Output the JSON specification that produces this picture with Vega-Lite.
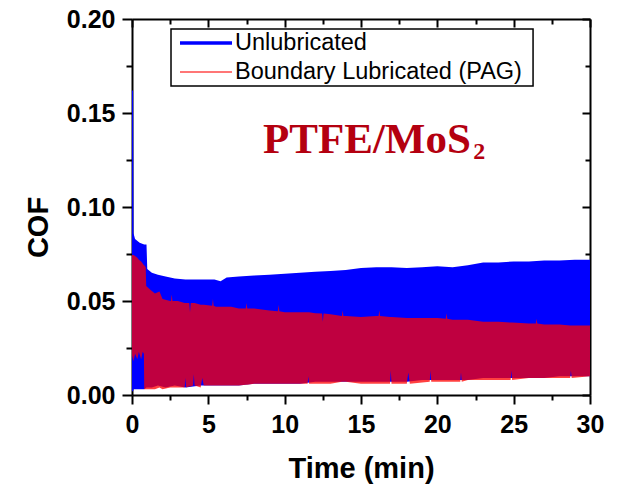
{
  "$schema": "https://vega.github.io/schema/vega-lite/v6.json",
  "width": 458,
  "height": 376,
  "autosize": {"type": "none"},
  "padding": {"left": 132, "top": 19, "right": 27, "bottom": 90},
  "background": "white",
  "config": {
    "view": {"stroke": null},
    "axis": {
      "domainColor": "black", "domainWidth": 2, "tickColor": "black", "tickWidth": 2,
      "labelColor": "black", "labelFont": "Liberation Sans", "labelFontWeight": "bold", "labelFontSize": 25,
      "titleFont": "Liberation Sans", "titleFontWeight": "bold", "titleFontSize": 29, "titleColor": "black",
      "grid": false, "zindex": 1
    }
  },
  "datasets": {
    "cof": [
      {"series": "Unlubricated", "t": 0, "hi": 0.162, "lo": 0.002},
      {"series": "Unlubricated", "t": 0.07, "hi": 0.162, "lo": 0.002},
      {"series": "Unlubricated", "t": 0.1, "hi": 0.086, "lo": 0.003},
      {"series": "Unlubricated", "t": 0.2, "hi": 0.083, "lo": 0.003},
      {"series": "Unlubricated", "t": 0.5, "hi": 0.081, "lo": 0.003},
      {"series": "Unlubricated", "t": 0.8, "hi": 0.08, "lo": 0.003},
      {"series": "Unlubricated", "t": 0.95, "hi": 0.08, "lo": 0.004},
      {"series": "Unlubricated", "t": 1.0, "hi": 0.067, "lo": 0.004},
      {"series": "Unlubricated", "t": 1.3, "hi": 0.065, "lo": 0.004},
      {"series": "Unlubricated", "t": 1.7, "hi": 0.064, "lo": 0.005},
      {"series": "Unlubricated", "t": 2.2, "hi": 0.063, "lo": 0.004},
      {"series": "Unlubricated", "t": 2.8, "hi": 0.062, "lo": 0.005},
      {"series": "Unlubricated", "t": 3.5, "hi": 0.0615, "lo": 0.004},
      {"series": "Unlubricated", "t": 4.5, "hi": 0.0615, "lo": 0.005},
      {"series": "Unlubricated", "t": 5.4, "hi": 0.0615, "lo": 0.005},
      {"series": "Unlubricated", "t": 5.8, "hi": 0.0605, "lo": 0.005},
      {"series": "Unlubricated", "t": 6.2, "hi": 0.0625, "lo": 0.005},
      {"series": "Unlubricated", "t": 7, "hi": 0.063, "lo": 0.005},
      {"series": "Unlubricated", "t": 8, "hi": 0.0635, "lo": 0.006},
      {"series": "Unlubricated", "t": 9, "hi": 0.064, "lo": 0.006},
      {"series": "Unlubricated", "t": 10, "hi": 0.0645, "lo": 0.006},
      {"series": "Unlubricated", "t": 11, "hi": 0.065, "lo": 0.006},
      {"series": "Unlubricated", "t": 12, "hi": 0.0655, "lo": 0.007},
      {"series": "Unlubricated", "t": 13, "hi": 0.066, "lo": 0.007},
      {"series": "Unlubricated", "t": 14, "hi": 0.0665, "lo": 0.007},
      {"series": "Unlubricated", "t": 15, "hi": 0.0675, "lo": 0.007},
      {"series": "Unlubricated", "t": 16, "hi": 0.068, "lo": 0.007},
      {"series": "Unlubricated", "t": 17, "hi": 0.068, "lo": 0.007},
      {"series": "Unlubricated", "t": 18, "hi": 0.0675, "lo": 0.007},
      {"series": "Unlubricated", "t": 19, "hi": 0.068, "lo": 0.008},
      {"series": "Unlubricated", "t": 20, "hi": 0.0685, "lo": 0.008},
      {"series": "Unlubricated", "t": 21, "hi": 0.068, "lo": 0.008},
      {"series": "Unlubricated", "t": 22, "hi": 0.069, "lo": 0.008},
      {"series": "Unlubricated", "t": 23, "hi": 0.0705, "lo": 0.009},
      {"series": "Unlubricated", "t": 24, "hi": 0.0705, "lo": 0.009},
      {"series": "Unlubricated", "t": 25, "hi": 0.071, "lo": 0.009},
      {"series": "Unlubricated", "t": 26, "hi": 0.071, "lo": 0.009},
      {"series": "Unlubricated", "t": 27, "hi": 0.0715, "lo": 0.009},
      {"series": "Unlubricated", "t": 28, "hi": 0.0715, "lo": 0.01},
      {"series": "Unlubricated", "t": 29, "hi": 0.072, "lo": 0.01},
      {"series": "Unlubricated", "t": 30, "hi": 0.072, "lo": 0.01},
      {"series": "Boundary Lubricated (PAG)", "t": 0, "hi": 0.0745, "lo": 0.021},
      {"series": "Boundary Lubricated (PAG)", "t": 0.1, "hi": 0.0745, "lo": 0.018},
      {"series": "Boundary Lubricated (PAG)", "t": 0.2, "hi": 0.074, "lo": 0.022},
      {"series": "Boundary Lubricated (PAG)", "t": 0.35, "hi": 0.073, "lo": 0.019},
      {"series": "Boundary Lubricated (PAG)", "t": 0.45, "hi": 0.072, "lo": 0.023},
      {"series": "Boundary Lubricated (PAG)", "t": 0.6, "hi": 0.071, "lo": 0.019},
      {"series": "Boundary Lubricated (PAG)", "t": 0.7, "hi": 0.07, "lo": 0.023},
      {"series": "Boundary Lubricated (PAG)", "t": 0.78, "hi": 0.069, "lo": 0.022},
      {"series": "Boundary Lubricated (PAG)", "t": 0.8, "hi": 0.069, "lo": 0.003},
      {"series": "Boundary Lubricated (PAG)", "t": 0.9, "hi": 0.068, "lo": 0.003},
      {"series": "Boundary Lubricated (PAG)", "t": 0.93, "hi": 0.058, "lo": 0.003},
      {"series": "Boundary Lubricated (PAG)", "t": 1.2, "hi": 0.056, "lo": 0.003},
      {"series": "Boundary Lubricated (PAG)", "t": 1.5, "hi": 0.054, "lo": 0.003},
      {"series": "Boundary Lubricated (PAG)", "t": 1.8, "hi": 0.055, "lo": 0.004},
      {"series": "Boundary Lubricated (PAG)", "t": 2.0, "hi": 0.051, "lo": 0.003},
      {"series": "Boundary Lubricated (PAG)", "t": 2.5, "hi": 0.05, "lo": 0.004},
      {"series": "Boundary Lubricated (PAG)", "t": 2.55, "hi": 0.05, "lo": 0.004},
      {"series": "Boundary Lubricated (PAG)", "t": 2.6, "hi": 0.0535, "lo": 0.004},
      {"series": "Boundary Lubricated (PAG)", "t": 2.65, "hi": 0.05, "lo": 0.004},
      {"series": "Boundary Lubricated (PAG)", "t": 3.0, "hi": 0.05, "lo": 0.004},
      {"series": "Boundary Lubricated (PAG)", "t": 3.45, "hi": 0.049, "lo": 0.004},
      {"series": "Boundary Lubricated (PAG)", "t": 3.5, "hi": 0.049, "lo": 0.009},
      {"series": "Boundary Lubricated (PAG)", "t": 3.55, "hi": 0.049, "lo": 0.004},
      {"series": "Boundary Lubricated (PAG)", "t": 3.75, "hi": 0.049, "lo": 0.0045},
      {"series": "Boundary Lubricated (PAG)", "t": 3.8, "hi": 0.044, "lo": 0.0045},
      {"series": "Boundary Lubricated (PAG)", "t": 3.85, "hi": 0.049, "lo": 0.0045},
      {"series": "Boundary Lubricated (PAG)", "t": 4.0, "hi": 0.049, "lo": 0.005},
      {"series": "Boundary Lubricated (PAG)", "t": 4.05, "hi": 0.049, "lo": 0.011},
      {"series": "Boundary Lubricated (PAG)", "t": 4.1, "hi": 0.049, "lo": 0.005},
      {"series": "Boundary Lubricated (PAG)", "t": 4.5, "hi": 0.048, "lo": 0.004},
      {"series": "Boundary Lubricated (PAG)", "t": 4.6, "hi": 0.048, "lo": 0.009},
      {"series": "Boundary Lubricated (PAG)", "t": 4.7, "hi": 0.048, "lo": 0.005},
      {"series": "Boundary Lubricated (PAG)", "t": 5.25, "hi": 0.0475, "lo": 0.005},
      {"series": "Boundary Lubricated (PAG)", "t": 5.3, "hi": 0.051, "lo": 0.005},
      {"series": "Boundary Lubricated (PAG)", "t": 5.35, "hi": 0.0475, "lo": 0.005},
      {"series": "Boundary Lubricated (PAG)", "t": 5.5, "hi": 0.047, "lo": 0.005},
      {"series": "Boundary Lubricated (PAG)", "t": 6, "hi": 0.047, "lo": 0.005},
      {"series": "Boundary Lubricated (PAG)", "t": 6.5, "hi": 0.047, "lo": 0.005},
      {"series": "Boundary Lubricated (PAG)", "t": 7, "hi": 0.046, "lo": 0.005},
      {"series": "Boundary Lubricated (PAG)", "t": 7.45, "hi": 0.046, "lo": 0.0055},
      {"series": "Boundary Lubricated (PAG)", "t": 7.5, "hi": 0.049, "lo": 0.0055},
      {"series": "Boundary Lubricated (PAG)", "t": 7.55, "hi": 0.046, "lo": 0.0055},
      {"series": "Boundary Lubricated (PAG)", "t": 8, "hi": 0.046, "lo": 0.006},
      {"series": "Boundary Lubricated (PAG)", "t": 9, "hi": 0.045, "lo": 0.006},
      {"series": "Boundary Lubricated (PAG)", "t": 9.55, "hi": 0.0445, "lo": 0.006},
      {"series": "Boundary Lubricated (PAG)", "t": 9.6, "hi": 0.048, "lo": 0.006},
      {"series": "Boundary Lubricated (PAG)", "t": 9.65, "hi": 0.0445, "lo": 0.006},
      {"series": "Boundary Lubricated (PAG)", "t": 10, "hi": 0.044, "lo": 0.006},
      {"series": "Boundary Lubricated (PAG)", "t": 11.5, "hi": 0.044, "lo": 0.006},
      {"series": "Boundary Lubricated (PAG)", "t": 11.55, "hi": 0.044, "lo": 0.01},
      {"series": "Boundary Lubricated (PAG)", "t": 11.6, "hi": 0.044, "lo": 0.006},
      {"series": "Boundary Lubricated (PAG)", "t": 12, "hi": 0.0435, "lo": 0.006},
      {"series": "Boundary Lubricated (PAG)", "t": 12.45, "hi": 0.0433, "lo": 0.006},
      {"series": "Boundary Lubricated (PAG)", "t": 12.5, "hi": 0.039, "lo": 0.006},
      {"series": "Boundary Lubricated (PAG)", "t": 12.55, "hi": 0.0433, "lo": 0.006},
      {"series": "Boundary Lubricated (PAG)", "t": 13, "hi": 0.043, "lo": 0.006},
      {"series": "Boundary Lubricated (PAG)", "t": 13.75, "hi": 0.042, "lo": 0.007},
      {"series": "Boundary Lubricated (PAG)", "t": 13.8, "hi": 0.045, "lo": 0.007},
      {"series": "Boundary Lubricated (PAG)", "t": 13.85, "hi": 0.042, "lo": 0.007},
      {"series": "Boundary Lubricated (PAG)", "t": 14, "hi": 0.042, "lo": 0.007},
      {"series": "Boundary Lubricated (PAG)", "t": 15, "hi": 0.0415, "lo": 0.006},
      {"series": "Boundary Lubricated (PAG)", "t": 16, "hi": 0.042, "lo": 0.006},
      {"series": "Boundary Lubricated (PAG)", "t": 16.15, "hi": 0.042, "lo": 0.006},
      {"series": "Boundary Lubricated (PAG)", "t": 16.2, "hi": 0.045, "lo": 0.006},
      {"series": "Boundary Lubricated (PAG)", "t": 16.25, "hi": 0.042, "lo": 0.006},
      {"series": "Boundary Lubricated (PAG)", "t": 16.9, "hi": 0.0415, "lo": 0.006},
      {"series": "Boundary Lubricated (PAG)", "t": 16.95, "hi": 0.0415, "lo": 0.013},
      {"series": "Boundary Lubricated (PAG)", "t": 17.0, "hi": 0.0415, "lo": 0.006},
      {"series": "Boundary Lubricated (PAG)", "t": 18, "hi": 0.041, "lo": 0.006},
      {"series": "Boundary Lubricated (PAG)", "t": 18.1, "hi": 0.041, "lo": 0.012},
      {"series": "Boundary Lubricated (PAG)", "t": 18.2, "hi": 0.041, "lo": 0.006},
      {"series": "Boundary Lubricated (PAG)", "t": 19.5, "hi": 0.041, "lo": 0.007},
      {"series": "Boundary Lubricated (PAG)", "t": 19.55, "hi": 0.041, "lo": 0.013},
      {"series": "Boundary Lubricated (PAG)", "t": 19.6, "hi": 0.041, "lo": 0.007},
      {"series": "Boundary Lubricated (PAG)", "t": 20, "hi": 0.041, "lo": 0.007},
      {"series": "Boundary Lubricated (PAG)", "t": 20.55, "hi": 0.0405, "lo": 0.007},
      {"series": "Boundary Lubricated (PAG)", "t": 20.6, "hi": 0.0435, "lo": 0.007},
      {"series": "Boundary Lubricated (PAG)", "t": 20.65, "hi": 0.0405, "lo": 0.007},
      {"series": "Boundary Lubricated (PAG)", "t": 21, "hi": 0.04, "lo": 0.007},
      {"series": "Boundary Lubricated (PAG)", "t": 21.5, "hi": 0.04, "lo": 0.007},
      {"series": "Boundary Lubricated (PAG)", "t": 21.55, "hi": 0.04, "lo": 0.012},
      {"series": "Boundary Lubricated (PAG)", "t": 21.6, "hi": 0.04, "lo": 0.007},
      {"series": "Boundary Lubricated (PAG)", "t": 22, "hi": 0.04, "lo": 0.008},
      {"series": "Boundary Lubricated (PAG)", "t": 23, "hi": 0.039, "lo": 0.008},
      {"series": "Boundary Lubricated (PAG)", "t": 24, "hi": 0.039, "lo": 0.008},
      {"series": "Boundary Lubricated (PAG)", "t": 24.8, "hi": 0.0385, "lo": 0.008},
      {"series": "Boundary Lubricated (PAG)", "t": 24.85, "hi": 0.0385, "lo": 0.013},
      {"series": "Boundary Lubricated (PAG)", "t": 24.9, "hi": 0.0385, "lo": 0.008},
      {"series": "Boundary Lubricated (PAG)", "t": 26, "hi": 0.038, "lo": 0.009},
      {"series": "Boundary Lubricated (PAG)", "t": 26.45, "hi": 0.038, "lo": 0.009},
      {"series": "Boundary Lubricated (PAG)", "t": 26.5, "hi": 0.0405, "lo": 0.009},
      {"series": "Boundary Lubricated (PAG)", "t": 26.55, "hi": 0.038, "lo": 0.009},
      {"series": "Boundary Lubricated (PAG)", "t": 27, "hi": 0.0375, "lo": 0.009},
      {"series": "Boundary Lubricated (PAG)", "t": 28, "hi": 0.0375, "lo": 0.009},
      {"series": "Boundary Lubricated (PAG)", "t": 28.7, "hi": 0.037, "lo": 0.009},
      {"series": "Boundary Lubricated (PAG)", "t": 28.75, "hi": 0.037, "lo": 0.013},
      {"series": "Boundary Lubricated (PAG)", "t": 28.8, "hi": 0.037, "lo": 0.009},
      {"series": "Boundary Lubricated (PAG)", "t": 30, "hi": 0.037, "lo": 0.01}
    ]
  },
  "layer": [
    {
      "data": {"name": "cof"},
      "transform": [{"filter": "datum.series === 'Unlubricated'"}],
      "mark": {"type": "area", "opacity": 1},
      "encoding": {
        "x": {
          "field": "t", "type": "quantitative",
          "scale": {"domain": [0, 30], "nice": false, "zero": false},
          "axis": {
            "orient": "bottom", "title": "Time (min)",
            "values": [0, 2.5, 5, 7.5, 10, 12.5, 15, 17.5, 20, 22.5, 25, 27.5, 30],
            "format": "d",
            "labelExpr": "round(datum.value*10) % 50 === 0 ? datum.label : ''",
            "tickSize": {"condition": {"test": "round(datum.value*10) % 50 === 0", "value": 9}, "value": 5},
            "labelPadding": 8,
            "labelFlush": false,
            "titleY": 82, "titleBaseline": "alphabetic"
          }
        },
        "y": {
          "field": "hi", "type": "quantitative",
          "scale": {"domain": [0, 0.2], "nice": false},
          "axis": {
            "orient": "left", "title": "COF",
            "values": [0, 0.025, 0.05, 0.075, 0.1, 0.125, 0.15, 0.175, 0.2],
            "format": ".2f",
            "labelExpr": "round(datum.value*1000) % 50 === 0 ? datum.label : ''",
            "tickSize": {"condition": {"test": "round(datum.value*1000) % 50 === 0", "value": 10}, "value": 6},
            "labelPadding": 7,
            "labelFlush": false,
            "titleX": -85, "titleY": 208, "titleAngle": -90, "titleBaseline": "alphabetic", "titleAlign": "center"
          }
        },
        "y2": {"field": "lo"},
        "fill": {
          "field": "series", "type": "nominal",
          "scale": {"domain": ["Unlubricated", "Boundary Lubricated (PAG)"], "range": ["#0000FF", "#FF0000"]},
          "legend": null
        }
      }
    },
    {
      "data": {"name": "cof"},
      "transform": [{"filter": "datum.series !== 'Unlubricated'"}],
      "mark": {"type": "area", "opacity": 0.75},
      "encoding": {
        "x": {
          "field": "t", "type": "quantitative",
          "axis": {
            "orient": "top", "title": null, "labels": false,
            "values": [0, 2.5, 5, 7.5, 10, 12.5, 15, 17.5, 20, 22.5, 25, 27.5, 30],
            "tickSize": {"condition": {"test": "round(datum.value*10) % 50 === 0", "value": -8}, "value": -5}
          }
        },
        "y": {
          "field": "hi", "type": "quantitative",
          "axis": {
            "orient": "right", "title": null, "labels": false,
            "values": [0, 0.025, 0.05, 0.075, 0.1, 0.125, 0.15, 0.175, 0.2],
            "tickSize": {"condition": {"test": "round(datum.value*1000) % 50 === 0", "value": -8}, "value": -5}
          }
        },
        "y2": {"field": "lo"},
        "fill": {"field": "series", "type": "nominal", "legend": null}
      }
    },
    {
      "data": {"values": [{"item": "legend frame"}]},
      "mark": {"type": "rect", "fill": "white", "stroke": "black", "strokeWidth": 1.5},
      "encoding": {
        "x": {"datum": 2.555, "type": "quantitative", "axis": null},
        "x2": {"datum": 26.27},
        "y": {"datum": 0.1947, "type": "quantitative", "axis": null},
        "y2": {"datum": 0.16436}
      }
    },
    {
      "data": {"values": [{"series": "Unlubricated"}]},
      "mark": {"type": "rule", "color": "#0000FF", "strokeWidth": 3.5},
      "encoding": {
        "x": {"datum": 3.144, "type": "quantitative", "axis": null},
        "x2": {"datum": 6.55},
        "y": {"datum": 0.18723, "type": "quantitative", "axis": null}
      }
    },
    {
      "data": {"values": [{"series": "Boundary Lubricated (PAG)"}]},
      "mark": {"type": "rule", "color": "#FF4848", "strokeWidth": 1.5},
      "encoding": {
        "x": {"datum": 3.144, "type": "quantitative", "axis": null},
        "x2": {"datum": 6.55},
        "y": {"datum": 0.17181, "type": "quantitative", "axis": null}
      }
    },
    {
      "data": {"values": [{"series": "Unlubricated"}]},
      "mark": {"type": "text", "align": "left", "baseline": "middle", "font": "Liberation Sans", "fontSize": 23.5, "color": "black"},
      "encoding": {
        "x": {"datum": 6.747, "type": "quantitative", "axis": null},
        "y": {"datum": 0.18723, "type": "quantitative", "axis": null},
        "text": {"field": "series"}
      }
    },
    {
      "data": {"values": [{"series": "Boundary Lubricated (PAG)"}]},
      "mark": {"type": "text", "align": "left", "baseline": "middle", "font": "Liberation Sans", "fontSize": 23.5, "color": "black"},
      "encoding": {
        "x": {"datum": 6.747, "type": "quantitative", "axis": null},
        "y": {"datum": 0.17181, "type": "quantitative", "axis": null},
        "text": {"field": "series"}
      }
    },
    {
      "data": {"values": [{"label": "PTFE/MoS"}]},
      "mark": {"type": "text", "align": "left", "baseline": "alphabetic", "font": "Liberation Serif", "fontWeight": "bold", "fontSize": 43, "color": "#B40010"},
      "encoding": {
        "x": {"datum": 8.58, "type": "quantitative", "axis": null},
        "y": {"datum": 0.1287, "type": "quantitative", "axis": null},
        "text": {"field": "label"}
      }
    },
    {
      "data": {"values": [{"label": "2"}]},
      "mark": {"type": "text", "align": "left", "baseline": "alphabetic", "font": "Liberation Serif", "fontWeight": "bold", "fontSize": 24, "color": "#B40010"},
      "encoding": {
        "x": {"datum": 22.35, "type": "quantitative", "axis": null},
        "y": {"datum": 0.1253, "type": "quantitative", "axis": null},
        "text": {"field": "label"}
      }
    }
  ],
  "resolve": {
    "scale": {"x": "shared", "y": "shared"},
    "axis": {"x": "independent", "y": "independent"}
  }
}
